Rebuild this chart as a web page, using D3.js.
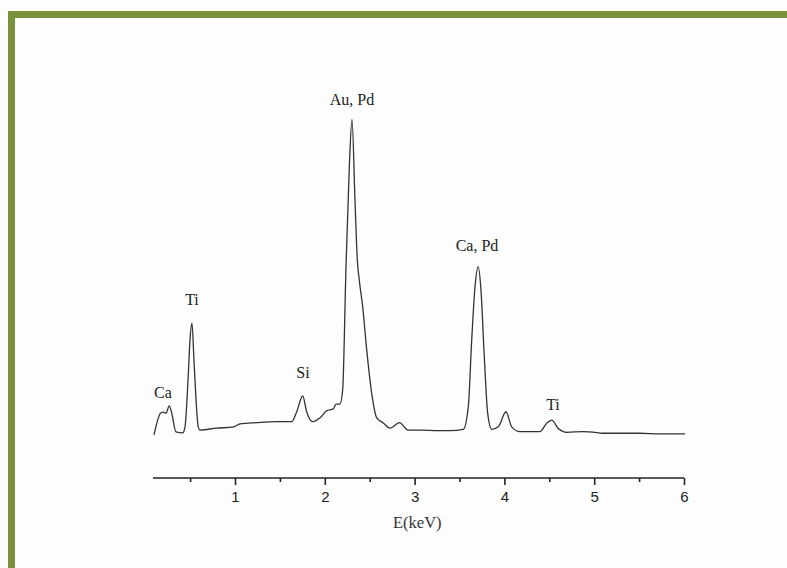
<!DOCTYPE html>
<html>
<head>
<meta charset="utf-8">
<script src="https://cdn.jsdelivr.net/npm/d3@7"></script>
<style>
  html, body { margin: 0; padding: 0; background: #fdfdfd; }
  svg { display: block; }
</style>
</head>
<body>
<svg id="chart" width="787" height="568"></svg>
<script>
// Energy (keV) of each sample point
const energy = [0.098,0.173,0.202,0.232,0.268,0.295,0.343,0.418,0.443,0.477,0.499,0.521,0.543,0.566,0.591,0.610,
  0.796,0.978,1.056,1.242,1.464,1.631,1.687,1.754,1.798,1.865,1.947,2.021,2.095,2.125,2.169,2.199,2.236,2.273,
  2.303,2.336,2.362,2.384,2.422,2.467,2.522,2.578,2.651,2.726,2.830,2.930,3.060,3.264,3.394,3.542,3.598,3.636,
  3.673,3.709,3.739,3.776,3.814,3.859,3.932,4.018,4.081,4.174,4.396,4.471,4.527,4.600,4.694,4.879,5.028,5.084,
  5.510,5.733,6.011];
// Intensity (arbitrary units)
const counts = [16,84,87,84,106,84,25,22,40,187,312,364,249,125,40,31,
  37,40,50,54,57,57,88,137,88,57,69,91,97,112,112,156,540,851,
  999,748,561,498,415,280,146,69,53,37,54,31,31,29,29,33,104,312,
  478,540,467,260,83,33,41,88,41,26,26,52,62,36,24,26,23,21,
  21,19,19];
const xTicks = [1, 2, 3, 4, 5, 6];
const xMinorTicks = [0.5, 1.5, 2.5, 3.5, 4.5, 5.5];
const peakLabels = ["Ca", "Ti", "Si", "Au, Pd", "Ca, Pd", "Ti"];
const peakLabelEnergy = [0.198, 0.521, 1.757, 2.303, 3.695, 4.541];
const peakLabelCounts = [131, 421, 193, 1044, 589, 93];
const xTitle = "E(keV)";
</script>
<script>
const svg = d3.select("#chart");

// frame decoration
svg.append("rect").attr("x", 8).attr("y", 11).attr("width", 779).attr("height", 7).attr("fill", "#7b923d");
svg.append("rect").attr("x", 8).attr("y", 11).attr("width", 7).attr("height", 557).attr("fill", "#7b923d");

const x = d3.scaleLinear().domain([0, 6]).range([145.2, 684]);
const y = d3.scaleLinear().domain([0, 1000]).range([440, 119]);
const axisY = 478;

// axis line
svg.append("line")
  .attr("x1", x(0.087)).attr("x2", x(6))
  .attr("y1", axisY).attr("y2", axisY)
  .attr("stroke", "#222").attr("stroke-width", 1.6);

const axisMajor = d3.axisBottom(x).tickValues(xTicks).tickSize(7).tickPadding(6).tickFormat(d3.format("d"));
const gMaj = svg.append("g").attr("transform", `translate(0,${axisY})`).call(axisMajor);
gMaj.select(".domain").remove();
gMaj.selectAll(".tick line").attr("stroke", "#222").attr("stroke-width", 1.6);
gMaj.selectAll(".tick text")
  .attr("font-family", "'Liberation Sans', Arial, sans-serif")
  .attr("font-size", 15).attr("fill", "#222");

const axisMinor = d3.axisBottom(x).tickValues(xMinorTicks).tickSize(4).tickFormat("");
const gMin = svg.append("g").attr("transform", `translate(0,${axisY})`).call(axisMinor);
gMin.select(".domain").remove();
gMin.selectAll(".tick line").attr("stroke", "#222").attr("stroke-width", 1.6);

svg.append("text")
  .attr("x", x(3.03)).attr("y", 528)
  .attr("text-anchor", "middle")
  .attr("font-family", "'Liberation Serif', 'Times New Roman', serif")
  .attr("font-size", 16.5).attr("fill", "#333")
  .text(xTitle);

// spectrum
const data = energy.map((e, i) => [e, counts[i]]);
const line = d3.line().x(d => x(d[0])).y(d => y(d[1])).curve(d3.curveMonotoneX);
svg.append("path").datum(data)
  .attr("d", line)
  .attr("fill", "none")
  .attr("stroke", "#333")
  .attr("stroke-width", 1.3)
  .attr("stroke-linejoin", "round");

// peak labels
svg.selectAll(".peak").data(peakLabels).enter().append("text")
  .attr("class", "peak")
  .attr("x", (d, i) => x(peakLabelEnergy[i]))
  .attr("y", (d, i) => y(peakLabelCounts[i]))
  .attr("text-anchor", "middle")
  .attr("font-family", "'Liberation Serif', 'Times New Roman', serif")
  .attr("font-size", 16).attr("fill", "#222")
  .text(d => d);
</script>
</body>
</html>
